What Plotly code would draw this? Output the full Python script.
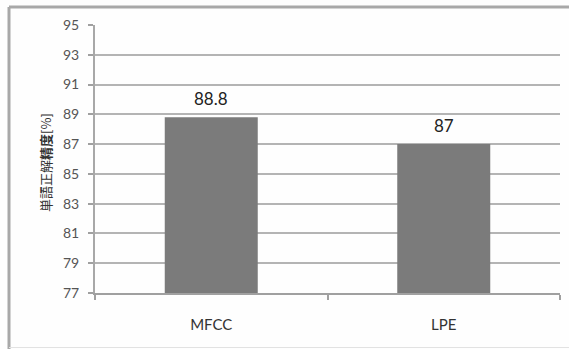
import plotly.graph_objects as go

# Word recognition accuracy by feature type
categories = ["MFCC", "LPE"]
accuracy = [88.8, 87]
y_ticks = [77, 79, 81, 83, 85, 87, 89, 91, 93, 95]

W, H = 569, 349
ML, MR, MT, MB = 95, 9, 25, 56
PW, PH = W - ML - MR, H - MT - MB


def px_x(p):
    return (p - ML) / PW


def px_y(p):
    return (H - MB - p) / PH


fig = go.Figure()
fig.add_trace(go.Bar(
    x=categories,
    y=accuracy,
    width=0.4,
    marker=dict(color="#7b7b7b", line=dict(width=0)),
    hoverinfo="skip",
))

# value labels above bars
for c, v in zip(categories, accuracy):
    fig.add_annotation(
        x=c, y=v, text=f"{v:g}", showarrow=False,
        yanchor="bottom", yshift=6,
        font=dict(family="Lato, Liberation Sans", size=17, color="#222222"),
    )

# y-axis title
fig.add_annotation(
    xref="paper", yref="paper", x=px_x(45), y=px_y(163),
    xanchor="center", yanchor="middle",
    text="単語正解<b>精度</b>[%]", textangle=-90, showarrow=False,
    font=dict(family="Noto Sans CJK JP", size=13, color="#333333"),
)

# chart frame
frame = dict(color="#a8a8a8", width=3)
fig.add_shape(type="line", xref="paper", yref="paper",
              x0=px_x(9), x1=px_x(580), y0=px_y(7), y1=px_y(7), line=frame)
fig.add_shape(type="line", xref="paper", yref="paper",
              x0=px_x(9), x1=px_x(9), y0=px_y(7), y1=px_y(350), line=frame)
fig.add_shape(type="line", xref="paper", yref="paper",
              x0=px_x(9), x1=px_x(580), y0=px_y(347.5), y1=px_y(347.5),
              line=dict(color="#e2e2e2", width=1))

fig.update_layout(
    width=W, height=H,
    margin=dict(l=ML, r=MR, t=MT, b=MB, autoexpand=False),
    paper_bgcolor="#fefefe",
    plot_bgcolor="#fefefe",
    showlegend=False,
    bargap=0.6,
    font=dict(family="Lato, Liberation Sans", color="#555555"),
)
fig.update_xaxes(
    type="category",
    tickson="boundaries",
    ticks="outside", ticklen=5, tickwidth=1.5, tickcolor="#a0a0a0",
    showline=True, linecolor="#a0a0a0", linewidth=2,
    showgrid=False,
    tickfont=dict(family="Lato, Liberation Sans", size=15, color="#333333"),
    ticklabelstandoff=17,
    automargin=False,
)
fig.update_yaxes(
    range=[77, 95],
    tickvals=y_ticks,
    ticktext=[str(t) for t in y_ticks],
    ticks="outside", ticklen=5, tickwidth=1.5, tickcolor="#a0a0a0",
    showline=True, linecolor="#a8a8a8", linewidth=2,
    showgrid=True, gridcolor="#b4b4b4", gridwidth=1.5,
    zeroline=False,
    tickfont=dict(family="Lato, Liberation Sans", size=14, color="#555555"),
    ticklabelstandoff=6,
    automargin=False,
)

fig.write_html("out.html")
